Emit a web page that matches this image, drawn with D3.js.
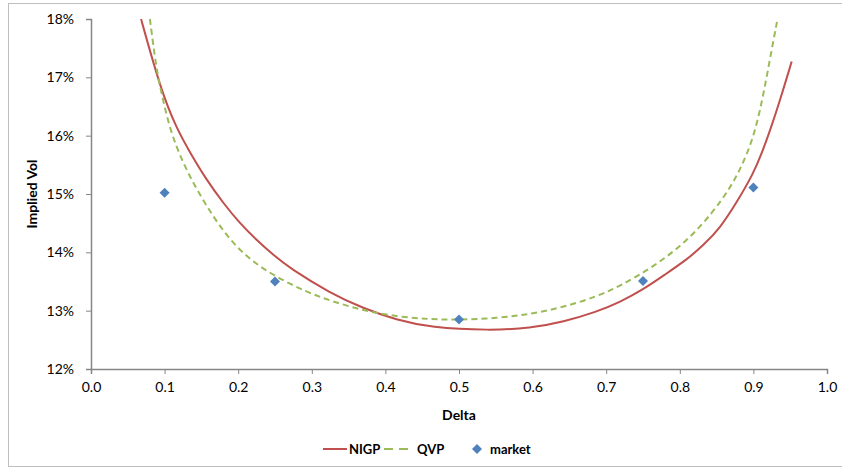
<!DOCTYPE html>
<html><head><meta charset="utf-8">
<script src="https://cdn.jsdelivr.net/npm/d3@7"></script>
<style>body{margin:0;background:#fff;} svg{display:block;font-family:Lato,"Open Sans",sans-serif;}</style>
</head><body>
<svg id="c" width="842" height="468"></svg>
<script>
const xTicks = [0,0.1,0.2,0.3,0.4,0.5,0.6,0.7,0.8,0.9,1.0];
const yTicks = [12,13,14,15,16,17,18];
const nigpDelta = [0.068,0.095,0.116,0.135,0.157,0.180,0.202,0.225,0.248,0.270,0.325,0.370,0.415,0.461,0.542,0.597,0.642,0.687,0.719,0.750,0.780,0.809,0.832,0.855,0.877,0.900,0.912,0.923,0.936,0.952];
const nigpVol   = [18.00,16.78,16.13,15.70,15.24,14.84,14.50,14.21,13.95,13.73,13.30,13.04,12.84,12.71,12.66,12.70,12.81,12.98,13.15,13.36,13.62,13.87,14.12,14.42,14.85,15.35,15.72,16.10,16.60,17.27];
const qvpDelta = [0.080,0.089,0.095,0.107,0.125,0.144,0.166,0.189,0.216,0.251,0.293,0.325,0.370,0.415,0.461,0.501,0.551,0.597,0.642,0.687,0.720,0.764,0.809,0.846,0.868,0.882,0.895,0.905,0.914,0.923,0.932];
const qvpVol   = [18.00,17.13,16.78,16.10,15.53,15.07,14.61,14.21,13.87,13.58,13.32,13.17,13.00,12.90,12.85,12.845,12.87,12.94,13.06,13.24,13.43,13.75,14.18,14.70,15.10,15.42,15.80,16.21,16.73,17.35,17.95];
const marketDelta = [0.1,0.25,0.5,0.75,0.9];
const marketVol   = [15.02,13.50,12.85,13.51,15.11];

const svg = d3.select("#c");
svg.append("rect").attr("x",8.5).attr("y",3.5).attr("width",840).attr("height",463).attr("fill","none").attr("stroke","#bfbfbf").attr("stroke-width",1);

const x = d3.scaleLinear().domain([0,1]).range([91,827]);
const y = d3.scaleLinear().domain([12,18]).range([369,19]);
const axisColor = "#868686";

const gx = svg.append("g").attr("transform","translate(0,369)")
  .call(d3.axisBottom(x).tickValues(xTicks).tickFormat(d3.format(".1f")).tickSize(5).tickPadding(8));
const gy = svg.append("g").attr("transform","translate(91,0)")
  .call(d3.axisLeft(y).tickValues(yTicks).tickFormat(d=>d+"%").tickSize(5).tickPadding(12));
[gx,gy].forEach(g=>{
  g.select(".domain").attr("stroke",axisColor).attr("stroke-width",1.5);
  g.selectAll(".tick line").attr("stroke",axisColor).attr("stroke-width",1);
  g.selectAll(".tick text").attr("fill","#000").style("font-size","14px").style("font-family","Lato,'Open Sans',sans-serif");
});

svg.append("text").attr("x",459).attr("y",420).attr("text-anchor","middle").style("font-size","14px").style("font-weight","bold").text("Delta");
svg.append("text").attr("transform","translate(37,194) rotate(-90)").attr("text-anchor","middle").style("font-size","14px").style("font-weight","bold").text("Implied Vol");

const line = d3.line().x(d=>x(d[0])).y(d=>y(d[1])).curve(d3.curveBasis);
const nigp = nigpDelta.map((d,i)=>[d,nigpVol[i]]);
const qvp = qvpDelta.map((d,i)=>[d,qvpVol[i]]);
svg.append("path").datum(nigp).attr("d",line).attr("fill","none").attr("stroke","#C0504D").attr("stroke-width",2);
svg.append("path").datum(qvp).attr("d",line).attr("fill","none").attr("stroke","#9BBB59").attr("stroke-width",2).attr("stroke-dasharray","6,4");

const diamond = d3.symbol().type(d3.symbolDiamond2).size(64);
svg.selectAll(".mk").data(marketDelta.map((d,i)=>[d,marketVol[i]])).join("path")
  .attr("class","mk").attr("d",diamond).attr("transform",d=>`translate(${x(d[0])},${y(d[1])})`).attr("fill","#4F81BD");

// legend
const lg = svg.append("g").style("font-size","13px").style("font-weight","bold");
lg.append("line").attr("x1",323).attr("x2",347).attr("y1",449).attr("y2",449).attr("stroke","#C0504D").attr("stroke-width",2);
lg.append("text").attr("x",349).attr("y",454).text("NIGP");
lg.append("line").attr("x1",384).attr("x2",414).attr("y1",449).attr("y2",449).attr("stroke","#9BBB59").attr("stroke-width",2).attr("stroke-dasharray","9,6");
lg.append("text").attr("x",417).attr("y",454).text("QVP");
lg.append("path").attr("d",diamond).attr("transform","translate(477,449)").attr("fill","#4F81BD");
lg.append("text").attr("x",490).attr("y",454).text("market");
</script>
</body></html>
